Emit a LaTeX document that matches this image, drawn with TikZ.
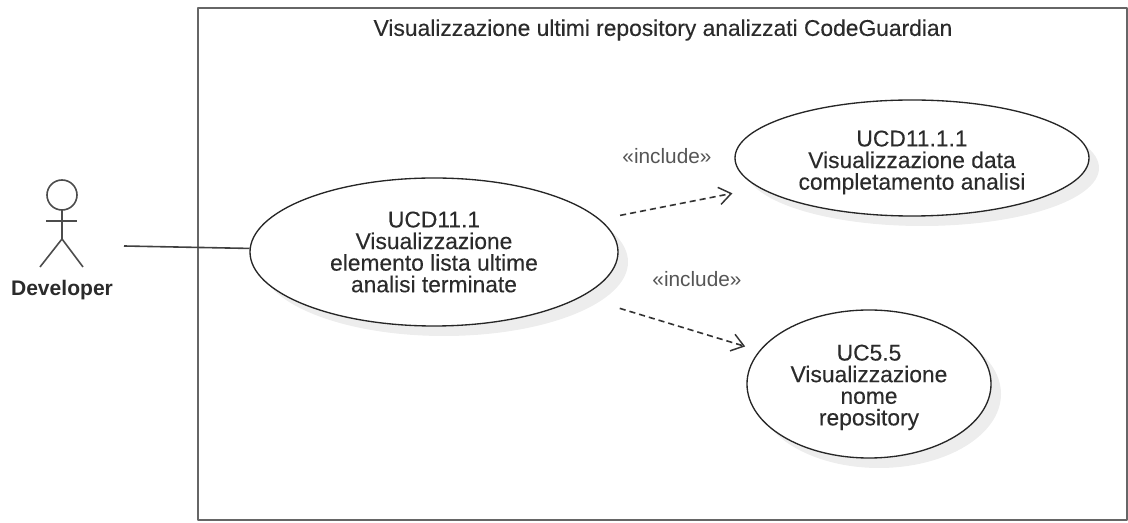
\documentclass[tikz,border=0pt]{standalone}
\usepackage{fontspec}
\setmainfont{Liberation Sans}
\newfontfamily\labelfont[FakeBold=0.25]{Liberation Sans}
\usetikzlibrary{arrows.meta,shapes.geometric,shadows}
\definecolor{framegray}{HTML}{666666}
\definecolor{textgray}{HTML}{2B2B2B}
\definecolor{inclgray}{HTML}{555555}
\def\toprule#1{\rule{0pt}{#1pt}}
\tikzset{
	usecase/.style={ellipse, draw=black!85, line width=1pt, fill=white, inner sep=0pt, align=center,
		text=textgray, font=\labelfont\fontsize{17.1}{16.2}\selectfont,
		drop shadow={shadow xshift=7.5pt, shadow yshift=-7.5pt, fill=black!7, opacity=1}},
	incl/.style={text=inclgray, font=\fontsize{15.6}{17}\selectfont},
	dep/.style={dashed, dash pattern=on 4.6pt off 3pt, line width=1.2pt, draw=black!80,
		-{Straight Barb[length=9pt, width=13pt, line width=1.1pt]}},
	actorline/.style={line width=1.2pt, draw=black!70}
}
\begin{document}
\begin{tikzpicture}[x=0.75pt, y=-0.75pt, line join=round]
	\useasboundingbox (0,0) rectangle (1128,523);
	% Riquadro del sistema
	\node[draw=framegray, line width=1.7pt, minimum width=696.75pt, minimum height=384pt, inner sep=0pt] (system) at (662.5,264) {};
	\node[text=textgray, font=\labelfont\fontsize{17.1}{18}\selectfont] (title) at (663,30) {Visualizzazione ultimi repository analizzati CodeGuardian};
	% Casi d'uso
	\node[usecase, minimum width=276pt, minimum height=111pt] (ucdMain) at (434,252) {UCD11.1\\Visualizzazione\\elemento lista ultime\\analisi terminate};
	\node[usecase, minimum width=265.5pt, minimum height=87pt] (ucdData) at (912,158) {\toprule{18.6}UCD11.1.1\\Visualizzazione data\\completamento analisi};
	\node[usecase, minimum width=183pt, minimum height=111pt] (ucRepo) at (869,384) {\toprule{17}UC5.5\\Visualizzazione\\nome\\repository};
	% Attore
	\coordinate (head) at (62,195);
	\coordinate (hip) at (62,239);
	\draw[actorline] (head) circle (15);
	\draw[actorline] (62,210) -- (hip);
	\draw[actorline] (46,221) -- (77,221);
	\draw[actorline] (40,267) -- (hip) -- (83,267);
	\node[text=textgray, font=\bfseries\fontsize{15.8}{18}\selectfont] (developer) at (62,290.5) {Developer};
	% Collegamenti
	\coordinate (actorLink) at (124,246);
	\draw[line width=1.2pt, draw=black!75] (actorLink) -- (ucdMain);
	\draw[dep, shorten <=15.3pt, shorten >=20.6pt] (ucdMain) -- (ucdData);
	\draw[dep, shorten <=29.8pt, shorten >=11pt] (ucdMain) -- (ucRepo);
	\node[incl] (inclData) at (667,156) {«include»};
	\node[incl] (inclRepo) at (697,279) {«include»};
\end{tikzpicture}
\end{document}
